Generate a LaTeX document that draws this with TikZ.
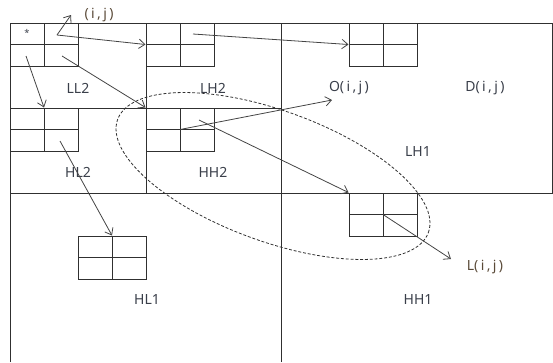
\documentclass[tikz,border=0pt]{standalone}
\usepackage{fontspec}
\setmainfont{Noto Sans}
\usetikzlibrary{arrows.meta,positioning,calc}
\definecolor{linec}{HTML}{303030}
\definecolor{arrc}{HTML}{444444}
\definecolor{txtc}{HTML}{3A3F4A}
\definecolor{idxc}{HTML}{5A4A38}
\newcommand{\gap}{\hspace{1.8pt}}
\tikzset{
  cellgrid/.style={draw=linec, line width=0.75pt, minimum width=51pt, minimum height=32.25pt, inner sep=0pt,
    path picture={\draw[linec, line width=0.75pt]
      (path picture bounding box.north) -- (path picture bounding box.south)
      (path picture bounding box.west) -- (path picture bounding box.east);}},
  band/.style={font=\fontsize{10.5}{12}\selectfont, text=txtc, inner sep=1pt},
  idx/.style={font=\fontsize{10.5}{12}\selectfont, text=idxc, inner sep=1pt},
  link/.style={draw=arrc, line width=0.6pt, -{Straight Barb[length=4.5pt,width=7pt]}}
}
\begin{document}
\begin{tikzpicture}[x=0.75pt, y=-0.75pt]
\useasboundingbox (0,0) rectangle (553,362);
% sub-band frame
\draw[linec, line width=0.75pt] (10,362) -- (10,23) -- (552,23) -- (552,193) -- (10,193);
\draw[linec, line width=0.75pt] (281,23) -- (281,362) (146,23) -- (146,193) (10,108) -- (281,108);
% 2x2 blocks
\foreach \n/\x/\y in {ll2/44/44.5, lh2/180/44.5, o/383/44.5, hl2/44/129.5, hh2/180/129.5, hh1/383/214.5, hl1/112/257.5}
  \node[cellgrid] (\n) at (\x,\y) {};
\node[font=\scriptsize, text=txtc, inner sep=0pt] (star) at (27,33) {*};
% labels
\node[idx] (ij) at (99,15) {(\gap i\gap ,\gap j\gap )};
\node[band] (ll2l) at (78,88) {LL2};
\node[band] (lh2l) at (213,88) {LH2};
\node[band] (hl2l) at (78,172) {HL2};
\node[band] (hh2l) at (213,172) {HH2};
\node[band] (lh1l) at (418,151) {LH1};
\node[band] (hl1l) at (147,299) {HL1};
\node[band] (hh1l) at (418,299) {HH1};
\node[band] (ol) at (349,88) {O(\gap i\gap ,\gap j\gap )};
\node[band] (dl) at (485,88) {D(\gap i\gap ,\gap j\gap )};
\node[idx] (ll) at (485,267) {L(\gap i\gap ,\gap j\gap )};
% start and end points
\coordinate (p1) at (57,35);
\coordinate (p2) at (193,34);
\coordinate (p3) at (26,56);
\coordinate (p4) at (62,56);
\coordinate (p5) at (199,120);
\coordinate (p6) at (60,141);
\coordinate (q1) at (71,15);
\coordinate (q2) at (332,100);
\coordinate (q3) at (451,259);
% arrows
\draw[link] (p1) -- (q1);
\draw[link] (p1) -- (lh2.west);
\draw[link] (p2) -- (o.west);
\draw[link] (p3) -- (hl2.north);
\draw[link] (p4) -- (hh2.north west);
\draw[link] (hh2.center) -- (q2);
\draw[link] (p5) -- (hh1.north west);
\draw[link] (p6) -- (hl1.north);
\draw[link] (hh1.center) -- (q3);
% neighbourhood
\draw[linec, line width=0.6pt, dash pattern=on 2.2pt off 1.4pt, rotate around={-20:(273,176)}]
  (273,176) ellipse [x radius=124pt, y radius=49pt];
\end{tikzpicture}
\end{document}
